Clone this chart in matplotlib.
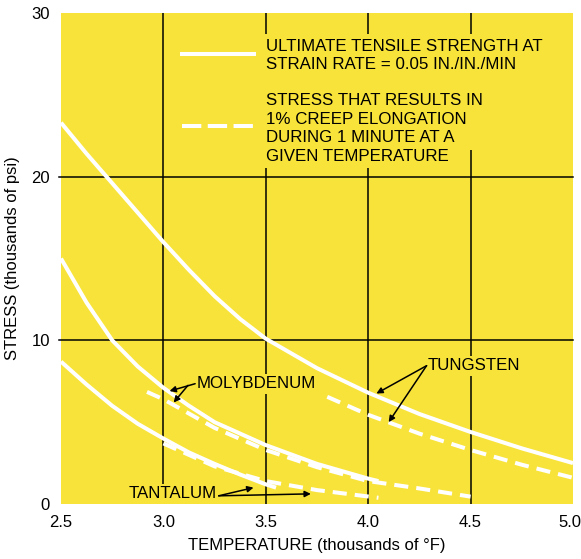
import numpy as np
import matplotlib
matplotlib.use("Agg")
import matplotlib.pyplot as plt
import matplotlib.transforms as mtransforms
from matplotlib.patches import Rectangle

plt.rcParams['font.family'] = ['Liberation Sans', 'DejaVu Sans']

# tungsten
w_uts_t = [2.5, 2.625, 2.75, 2.875, 3.0, 3.125, 3.25, 3.375, 3.5, 3.75, 4.0, 4.25, 4.5, 4.75, 5.0]
w_uts_s = [23.3, 21.4, 19.6, 17.8, 16.0, 14.3, 12.7, 11.3, 10.1, 8.3, 6.8, 5.5, 4.4, 3.4, 2.5]
w_creep_t = [3.8, 4.0, 4.25, 4.5, 4.75, 5.0]
w_creep_s = [6.55, 5.45, 4.3, 3.3, 2.4, 1.6]

# molybdenum
mo_uts_t = [2.5, 2.625, 2.75, 2.875, 3.0, 3.125, 3.25, 3.5, 3.75, 4.0, 4.05]
mo_uts_s = [15.0, 12.3, 10.0, 8.4, 7.1, 6.0, 5.0, 3.6, 2.45, 1.55, 1.4]
mo_creep_t = [2.92, 3.0, 3.25, 3.5, 3.75, 4.0, 4.25, 4.5]
mo_creep_s = [6.85, 6.4, 4.65, 3.3, 2.25, 1.4, 0.95, 0.45]

# tantalum
ta_uts_t = [2.5, 2.625, 2.75, 2.875, 3.0, 3.125, 3.25, 3.375, 3.5, 3.55]
ta_uts_s = [8.7, 7.3, 6.0, 4.9, 4.0, 3.15, 2.45, 1.8, 1.2, 1.0]
ta_creep_t = [3.0, 3.25, 3.5, 3.75, 4.05]
ta_creep_s = [3.7, 2.3, 1.4, 0.85, 0.38]

x_ticks = [2.5, 3.0, 3.5, 4.0, 4.5, 5.0]
y_ticks = [0, 10, 20, 30]

yellow = '#f8e33a'
fig = plt.figure(figsize=(5.81, 5.59), dpi=100)
ax = fig.add_axes([61 / 581, 1 - 504 / 559, 512 / 581, 491 / 559])
ax.set_facecolor(yellow)
for s in ax.spines.values():
    s.set_visible(False)
ax.set_xlim(2.5, 5.0)
ax.set_ylim(0, 30)

# grid
for gx in x_ticks[1:-1]:
    ax.axvline(gx, color='black', lw=1.1, zorder=1)
for gy in y_ticks[1:-1]:
    ax.plot([2.49, 5.0], [gy, gy], color='black', lw=1.1, zorder=1, clip_on=False)

# yellow cover behind legend text
ax.add_patch(Rectangle((3.47, 21.6), 1.1, 7.1, facecolor=yellow, edgecolor='none', zorder=1.5))
ax.add_patch(Rectangle((3.47, 20.5), 0.6, 1.2, facecolor=yellow, edgecolor='none', zorder=1.5))

lw = 2.9
dash = (3.5, 2.0)
for t, s in [(w_uts_t, w_uts_s), (mo_uts_t, mo_uts_s), (ta_uts_t, ta_uts_s)]:
    ax.plot(t, s, color='white', lw=lw, solid_capstyle='butt', zorder=2.5)
for t, s in [(w_creep_t, w_creep_s), (mo_creep_t, mo_creep_s), (ta_creep_t, ta_creep_s)]:
    ax.plot(t, s, color='white', lw=lw, dashes=dash, dash_capstyle='butt', zorder=2.5)

# legend
ax.plot([3.09, 3.44], [27.5, 27.5], color='white', lw=lw, zorder=2.5)
ax.plot([3.09, 3.44], [23.1, 23.1], color='white', lw=lw, dashes=(4.8, 1.6), zorder=2.5)
fs = 12.2
ax.text(3.5, 27.4, 'ULTIMATE TENSILE STRENGTH AT\nSTRAIN RATE = 0.05 IN./IN./MIN',
        fontsize=fs, va='center', ha='left', linespacing=1.3, zorder=3)
ax.text(3.5, 22.95, 'STRESS THAT RESULTS IN\n1% CREEP ELONGATION\nDURING 1 MINUTE AT A\nGIVEN TEMPERATURE',
        fontsize=fs, va='center', ha='left', linespacing=1.3, zorder=3)

box = dict(boxstyle='square,pad=0.15', facecolor=yellow, edgecolor='none')
arr = dict(arrowstyle='-|>', color='black', lw=1.1, mutation_scale=9, shrinkA=0, shrinkB=0)

ax.text(3.16, 7.35, 'MOLYBDENUM', fontsize=fs, va='center', ha='left', bbox=box, zorder=3)
ax.annotate('', xy=(3.03, 6.9), xytext=(3.155, 7.35), arrowprops=arr, zorder=3)
ax.annotate('', xy=(3.05, 6.2), xytext=(3.12, 7.25), arrowprops=arr, zorder=3)

ax.text(4.29, 8.45, 'TUNGSTEN', fontsize=fs, va='center', ha='left', bbox=box, zorder=3)
ax.annotate('', xy=(4.04, 6.75), xytext=(4.285, 8.45), arrowprops=arr, zorder=3)
ax.annotate('', xy=(4.1, 5.0), xytext=(4.285, 8.45), arrowprops=arr, zorder=3)

ax.text(3.26, 0.62, 'TANTALUM', fontsize=fs, va='center', ha='right', bbox=box, zorder=3)
ax.annotate('', xy=(3.44, 1.0), xytext=(3.27, 0.5), arrowprops=arr, zorder=3)
ax.annotate('', xy=(3.72, 0.62), xytext=(3.27, 0.5), arrowprops=arr, zorder=3)

ax.set_xticks(x_ticks)
ax.set_xticklabels(['2.5', '3.0', '3.5', '4.0', '4.5', '5.0'])
ax.set_yticks(y_ticks)
ax.tick_params(length=0, labelsize=12, pad=8)
last = ax.get_xticklabels()[-1]
last.set_ha('right')
last.set_transform(last.get_transform() + mtransforms.ScaledTranslation(6 / 72, 0, fig.dpi_scale_trans))
ax.set_xlabel('TEMPERATURE (thousands of °F)', fontsize=12, labelpad=6)
ax.set_ylabel('STRESS (thousands of psi)', fontsize=12, labelpad=8)

fig.savefig('out.png', dpi=100, facecolor='white')
